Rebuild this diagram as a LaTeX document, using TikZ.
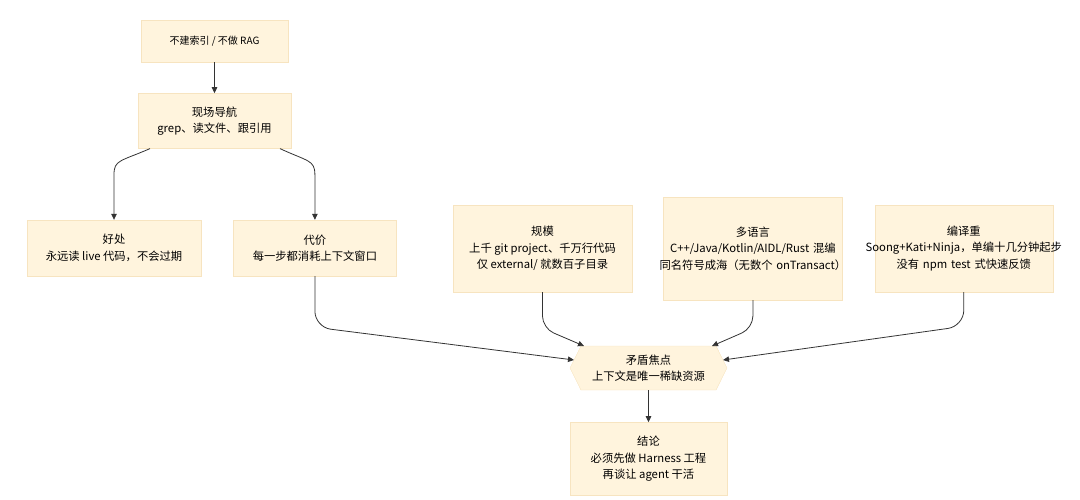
\documentclass[tikz,border=0pt]{standalone}
\usepackage{fontspec}
\setmainfont{Noto Sans CJK SC}
\usetikzlibrary{arrows.meta, positioning, shapes.symbols}
\definecolor{boxfill}{HTML}{FFF4DD}
\definecolor{boxline}{HTML}{F7E4C0}
\definecolor{linkgray}{HTML}{333333}
\newcommand{\wideline}[1]{\makebox[\linewidth]{#1}}

\begin{document}
\begin{tikzpicture}[
    x=1pt, y=-1pt,
    node distance=31pt and 31pt,
    every node/.style={draw=boxline, fill=boxfill, align=center, inner sep=4pt, font=\fontsize{11.3pt}{16.5pt}\selectfont},
    fixw/.style={text width=#1},
    hexbox/.style={shape=signal, signal to=west and east, signal pointer angle=127},
    link/.style={-{Triangle[length=6pt, width=5.5pt]}, draw=linkgray, line width=0.8pt}
]
\useasboundingbox (0,0) rectangle (1080,499);

% Nodes
\node (nocache) [minimum width=147pt, minimum height=42pt, font=\fontsize{10pt}{14pt}\selectfont] at (214.5,41) {不建索引 / 不做 RAG};
\node (navigate) [minimum width=153pt, minimum height=55pt, below=31pt of nocache] {现场导航\\grep、读文件、跟引用};
\node (benefit) [minimum width=174pt, minimum height=56pt] at (114,248) {好处\\永远读 live 代码，不会过期};
\node (cost) [minimum width=163pt, minimum height=56pt, right=32pt of benefit] {代价\\每一步都消耗上下文窗口};
\node (scale) [minimum width=179pt, minimum height=87pt] at (542.5,248.5) {规模\\上千 git project、千万行代码\\仅 external/ 就数百子目录};
\node (lang) [fixw=171pt, minimum height=103pt, right=31pt of scale] {多语言\\C++/Java/Kotlin/AIDL/Rust 混编\\\wideline{同名符号成海（无数个 onTransact）}};
\node (build) [fixw=170pt, minimum height=87pt, right=32pt of lang] {编译重\\\wideline{Soong+Kati+Ninja，单编十几分钟起步}\\没有 npm test 式快速反馈};
\node (focus) [hexbox, minimum width=157pt, minimum height=44pt] at (648.5,368) {矛盾焦点\\上下文是唯一稀缺资源};
\node (verdict) [minimum width=157pt, minimum height=73pt, below=32pt of focus] {结论\\必须先做 Harness 工程\\再谈让 agent 干活};

% Edges
\draw [link] (nocache) -- (navigate);
\draw [link] ([xshift=-64.5pt]navigate.south) .. controls ([xshift=-94.5pt, yshift=-13pt]navigate.south) and ([yshift=60pt]benefit.north) .. ([yshift=45pt]benefit.north) -- (benefit.north);
\draw [link] ([xshift=65.5pt]navigate.south) .. controls ([xshift=93.5pt, yshift=-13pt]navigate.south) and ([yshift=60pt]cost.north) .. ([yshift=45pt]cost.north) -- (cost.north);
\draw [link, rounded corners=16pt] (cost.south) -- ([yshift=-51pt]cost.south) -- ([xshift=-74.5pt, yshift=8pt]focus.center);
\draw [link, rounded corners=12pt] (scale.south) -- ([yshift=-36pt]scale.south) -- ([xshift=-64.5pt, yshift=22pt]focus.center);
\draw [link, rounded corners=12pt] (lang.south) -- ([yshift=-28pt]lang.south) -- ([xshift=63.5pt, yshift=22pt]focus.center);
\draw [link, rounded corners=16pt] (build.south) -- ([yshift=-34pt]build.south) -- ([xshift=74.5pt, yshift=8pt]focus.center);
\draw [link] (focus) -- (verdict);

\end{tikzpicture}
\end{document}
